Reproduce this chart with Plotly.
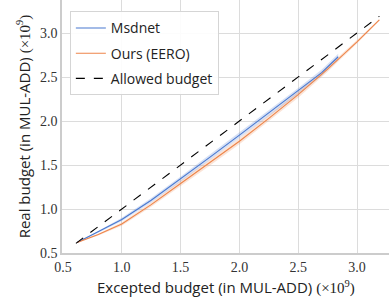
import plotly.graph_objects as go

# Data (units: x10^9 MUL-ADD)
msdnet_x = [0.62, 0.80, 1.00, 1.25, 1.50, 1.75, 2.00, 2.25, 2.50, 2.70, 2.84]
msdnet_y = [0.62, 0.74, 0.88, 1.10, 1.34, 1.59, 1.84, 2.09, 2.34, 2.55, 2.73]
msdnet_spread = [0.005, 0.01, 0.02, 0.025, 0.03, 0.03, 0.035, 0.035, 0.035, 0.035, 0.035]

eero_x = [0.62, 0.80, 1.00, 1.25, 1.50, 1.75, 2.00, 2.25, 2.50, 2.75, 3.00, 3.19]
eero_y = [0.62, 0.71, 0.83, 1.05, 1.29, 1.53, 1.77, 2.03, 2.30, 2.59, 2.90, 3.15]
eero_spread = [0.005, 0.01, 0.02, 0.025, 0.03, 0.035, 0.035, 0.035, 0.035, 0.03, 0.02, 0.01]

budget_x = [0.61, 3.19]
budget_y = [0.61, 3.19]

x_ticks = [0.5, 1.0, 1.5, 2.0, 2.5, 3.0]
y_ticks = [0.5, 1.0, 1.5, 2.0, 2.5, 3.0]

BLUE = "#4878d0"
ORANGE = "#ee854a"
SANS = "Open Sans"
SERIF = "Liberation Serif"


def band(x, y, s, color):
    upper = [a + b for a, b in zip(y, s)]
    lower = [a - b for a, b in zip(y, s)]
    return go.Scatter(x=list(x) + list(x)[::-1], y=upper + lower[::-1],
                      fill="toself", fillcolor=color, line=dict(width=0),
                      hoverinfo="skip", showlegend=False, mode="lines")


fig = go.Figure()
fig.add_trace(band(msdnet_x, msdnet_y, msdnet_spread, "rgba(72,120,208,0.22)"))
fig.add_trace(band(eero_x, eero_y, eero_spread, "rgba(238,133,74,0.22)"))
fig.add_trace(go.Scatter(x=msdnet_x, y=msdnet_y, mode="lines", name="Msdnet",
                         legendgroup="a",
                         line=dict(color=BLUE, width=1.1)))
fig.add_trace(go.Scatter(x=eero_x, y=eero_y, mode="lines", name="Ours (EERO)",
                         legendgroup="b",
                         line=dict(color=ORANGE, width=1.1)))
fig.add_trace(go.Scatter(x=budget_x, y=budget_y, mode="lines", name="Allowed budget",
                         legendgroup="c",
                         line=dict(color="black", width=1.1, dash="dash")))

title_suffix = '<span style="font-family:Liberation Serif">(×10<sup>9</sup>)</span>'

fig.update_layout(
    width=389, height=301,
    margin=dict(l=62, r=0, t=0, b=48),
    plot_bgcolor="white", paper_bgcolor="white",
    font=dict(family=SANS, color="#222222", size=14),
    legend=dict(x=0.024, y=0.955, xanchor="left", yanchor="top",
                bgcolor="rgba(255,255,255,0.9)", bordercolor="#d5d5d5", borderwidth=1,
                tracegroupgap=4,
                font=dict(family=SANS, size=14, color="#222222")),
    xaxis=dict(range=[0.4915, 3.272], tickvals=x_ticks,
               ticktext=[f"{v:.1f}" for v in x_ticks],
               tickfont=dict(family=SERIF, size=14, color="#333333"),
               showgrid=True, gridcolor="#dcdcdc", gridwidth=1,
               showline=True, linecolor="#cccccc", linewidth=1.5,
               zeroline=False, ticks=""),
    yaxis=dict(range=[0.5, 3.375], tickvals=y_ticks,
               ticktext=[f"{v:.1f}" for v in y_ticks],
               tickfont=dict(family=SERIF, size=14, color="#333333"),
               showgrid=True, gridcolor="#dcdcdc", gridwidth=1,
               showline=True, linecolor="#cccccc", linewidth=1.5,
               zeroline=False, ticks="",
               title=dict(text="Real budget (in MUL-ADD) " + title_suffix,
                          font=dict(family=SANS, size=15, color="#222222"), standoff=6)),
    annotations=[dict(text="Excepted budget (in MUL-ADD) " + title_suffix,
                      xref="paper", yref="paper", x=0.5, y=-0.134,
                      xanchor="center", yanchor="middle", showarrow=False,
                      font=dict(family=SANS, size=15, color="#222222"))],
)

fig.write_html("out.html", config={"displayModeBar": False},
               post_script="document.body.style.margin='0';document.body.style.padding='0';")
